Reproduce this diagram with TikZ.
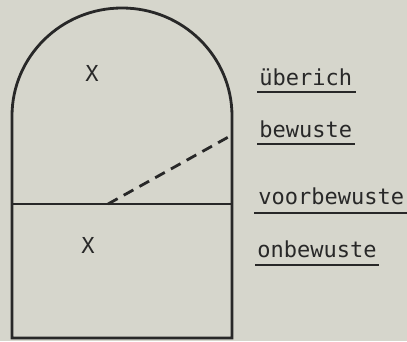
\documentclass[tikz,border=0pt]{standalone}
\usepackage{fontspec}
\setmonofont{DejaVu Sans Mono}
\usepackage{tikz}
\usetikzlibrary{calc}
\definecolor{paper}{RGB}{214,214,204}
\definecolor{ink}{RGB}{40,40,40}
\tikzset{lbl/.style={anchor=base west,inner sep=0pt,font=\ttfamily\fontsize{22}{26}\selectfont},
  uline/.style={line width=1.6pt}}
\begin{document}
\begin{tikzpicture}[x=1pt,y=1pt,line width=2.8pt,draw=ink,text=ink]
    \fill[paper] (0,0) rectangle (407,341);
    \useasboundingbox (0,0) rectangle (407,341);
    \draw (12,3) -- (12,225) arc[start angle=180,end angle=0,x radius=110,y radius=108]
      -- (232,3) -- cycle;
    \coordinate (L) at (12,137);
    \coordinate (R) at (232,137);
    \coordinate (D) at (108,137);
    \coordinate (E) at (232,206);
    \draw (L) -- (R);
    \draw[dash pattern=on 11pt off 7pt] (D) -- (E);
    \node[font=\ttfamily\fontsize{22}{26}\selectfont] (Xup) at (92,268) {X};
    \node[font=\ttfamily\fontsize{22}{26}\selectfont] (Xdown) at (88,96) {X};
    \node[lbl] (ueberich) at (258,256) {überich};
    \node[lbl] (bewuste) at (258,204) {bewuste};
    \node[lbl] (voorbewuste) at (257,137) {voorbewuste};
    \node[lbl] (onbewuste) at (256,84) {onbewuste};
    \draw[uline] ([shift={(-1,-7)}]ueberich.base west) -- ([shift={(2,-7)}]ueberich.base east);
    \draw[uline] ([shift={(-1,-7)}]bewuste.base west) -- ([shift={(1,-7)}]bewuste.base east);
    \draw[uline] ([shift={(-3,-9)}]voorbewuste.base west) -- ([shift={(2,-9)}]voorbewuste.base east);
    \draw[uline] ([shift={(-1,-8)}]onbewuste.base west) -- ([shift={(1,-8)}]onbewuste.base east);
  \end{tikzpicture}
\end{document}
